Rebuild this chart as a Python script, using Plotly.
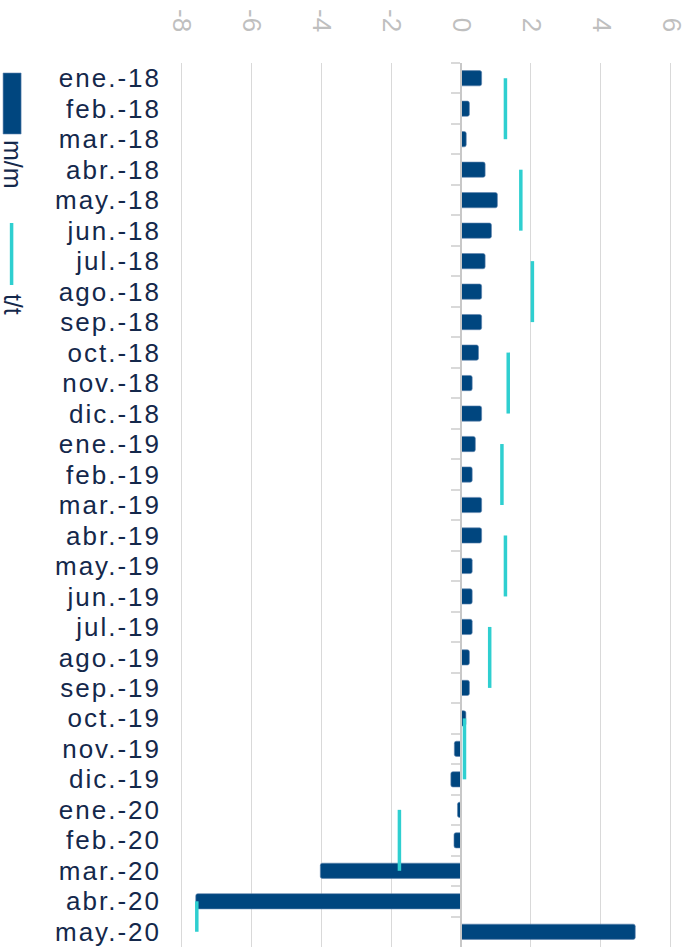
import plotly.graph_objects as go

# Meses (categorías del eje vertical)
meses = [
    "ene.-18", "feb.-18", "mar.-18", "abr.-18", "may.-18", "jun.-18",
    "jul.-18", "ago.-18", "sep.-18", "oct.-18", "nov.-18", "dic.-18",
    "ene.-19", "feb.-19", "mar.-19", "abr.-19", "may.-19", "jun.-19",
    "jul.-19", "ago.-19", "sep.-19", "oct.-19", "nov.-19", "dic.-19",
    "ene.-20", "feb.-20", "mar.-20", "abr.-20", "may.-20",
]

# Variación mensual (m/m), %
mm = [
    0.59, 0.24, 0.15, 0.69, 1.04, 0.87,
    0.69, 0.59, 0.59, 0.50, 0.32, 0.59,
    0.41, 0.32, 0.59, 0.59, 0.32, 0.32,
    0.32, 0.24, 0.24, 0.14, -0.19, -0.29,
    -0.10, -0.20, -4.02, -7.58, 4.98,
]

# Variación trimestral (t/t), %: un valor por trimestre
tt_trimestral = [1.27, 1.71, 2.04, 1.35, 1.17, 1.27, 0.82, 0.10, -1.76, -7.55]
meses_por_trimestre = 3

# Eje de valores
x_ticks = [-8, -6, -4, -2, 0, 2, 4, 6]
x_tick_text = ["-8", "-6", "-4", "-2", "0", "2", "4", "6"]
x_min, x_max = -8, 6
x_pad = 0.03

AZUL = "#00467F"
CIAN = "#2FCFD0"
TEXTO = "#14284B"
GRIS_TXT = "#BFBFBF"
GRIS_REJ = "#D9D9D9"

# Segmentos verticales t/t: cada trimestre abarca sus meses
tt_x, tt_y = [], []
for i, v in enumerate(tt_trimestral):
    grupo = meses[i * meses_por_trimestre:(i + 1) * meses_por_trimestre]
    tt_x += [v] * len(grupo) + [None]
    tt_y += grupo + [None]

fig = go.Figure()
fig.add_trace(go.Bar(
    x=mm, y=meses, orientation="h", name="m/m",
    marker=dict(color=AZUL, cornerradius=2,
                line=dict(color="#5F84AE", width=0.6)),
    showlegend=False,
))
fig.add_trace(go.Scatter(
    x=tt_x, y=tt_y, mode="lines", name="t/t", yaxis="y2",
    line=dict(color=CIAN, width=3.5), connectgaps=False,
    showlegend=False,
))

W, H = 685, 950
# píxeles por unidad en el eje de valores (de -8 a 6 entre x=181 y x=671)
ppu = 490 / (x_max - x_min)
ML = 181 - x_pad * ppu
MR = 14 - x_pad * ppu
MT, MB = 63, 3
pw, ph = W - ML - MR, H - MT - MB

def px_x(px):
    return (px - ML) / pw

def px_y(py):
    return (H - MB - py) / ph

lo, hi = x_min - x_pad, x_max + x_pad
cat_range = [len(meses) - 0.5, -0.5]
pos_cero = (0 - lo) / (hi - lo)

fig.update_layout(
    width=W, height=H,
    margin=dict(l=ML, r=MR, t=MT, b=MB, autoexpand=False),
    paper_bgcolor="white", plot_bgcolor="white",
    font=dict(family="Liberation Sans, Arial, sans-serif"),
    bargap=0.5,
    xaxis=dict(
        range=[lo, hi], side="top", automargin=False,
        tickmode="array", tickvals=x_ticks, ticktext=x_tick_text,
        tickangle=90, ticklabeloverflow="allow",
        tickfont=dict(size=26, color=GRIS_TXT),
        ticklabelstandoff=26,
        showgrid=True, gridcolor=GRIS_REJ, gridwidth=1,
        zeroline=False, showline=False, ticks="",
    ),
    yaxis=dict(
        type="category", categoryorder="array", categoryarray=meses,
        tickmode="array", tickvals=meses, ticktext=meses,
        range=cat_range, showgrid=False, zeroline=False, showline=False,
        ticks="", tickfont=dict(size=26, color=TEXTO),
        ticklabelstandoff=18, automargin=False,
    ),
    yaxis2=dict(
        type="category", categoryorder="array", categoryarray=meses,
        range=cat_range, overlaying="y", anchor="free", position=pos_cero,
        side="left", showticklabels=False, showgrid=False, zeroline=False,
        showline=True, linecolor="#C8C8C8", linewidth=1.5,
        ticks="outside", tickson="boundaries", ticklen=9,
        tickcolor=GRIS_REJ, tickwidth=1.5, automargin=False,
    ),
)

# Leyenda vertical a la izquierda
fig.add_shape(type="rect", xref="paper", yref="paper",
              x0=px_x(3), x1=px_x(21), y0=px_y(134), y1=px_y(73),
              fillcolor=AZUL, line=dict(color="#5F84AE", width=0.6))
fig.add_annotation(xref="paper", yref="paper", x=px_x(13), y=px_y(164),
                   xanchor="center", yanchor="middle",
                   text="m/m", textangle=90, showarrow=False,
                   font=dict(size=25, color=TEXTO))
fig.add_shape(type="line", xref="paper", yref="paper",
              x0=px_x(11.5), x1=px_x(11.5), y0=px_y(285), y1=px_y(223),
              line=dict(color=CIAN, width=3.5))
fig.add_annotation(xref="paper", yref="paper", x=px_x(13), y=px_y(304),
                   xanchor="center", yanchor="middle",
                   text="t/t", textangle=90, showarrow=False,
                   font=dict(size=25, color=TEXTO))

# Etiquetas de meses algo más espaciadas
espaciado = """
var gd = document.getElementById('{plot_id}');
gd.querySelectorAll('.ytick text').forEach(function (t) {
    t.style.letterSpacing = '2px';
});
"""

fig.write_html("out.html", post_script=espaciado)
